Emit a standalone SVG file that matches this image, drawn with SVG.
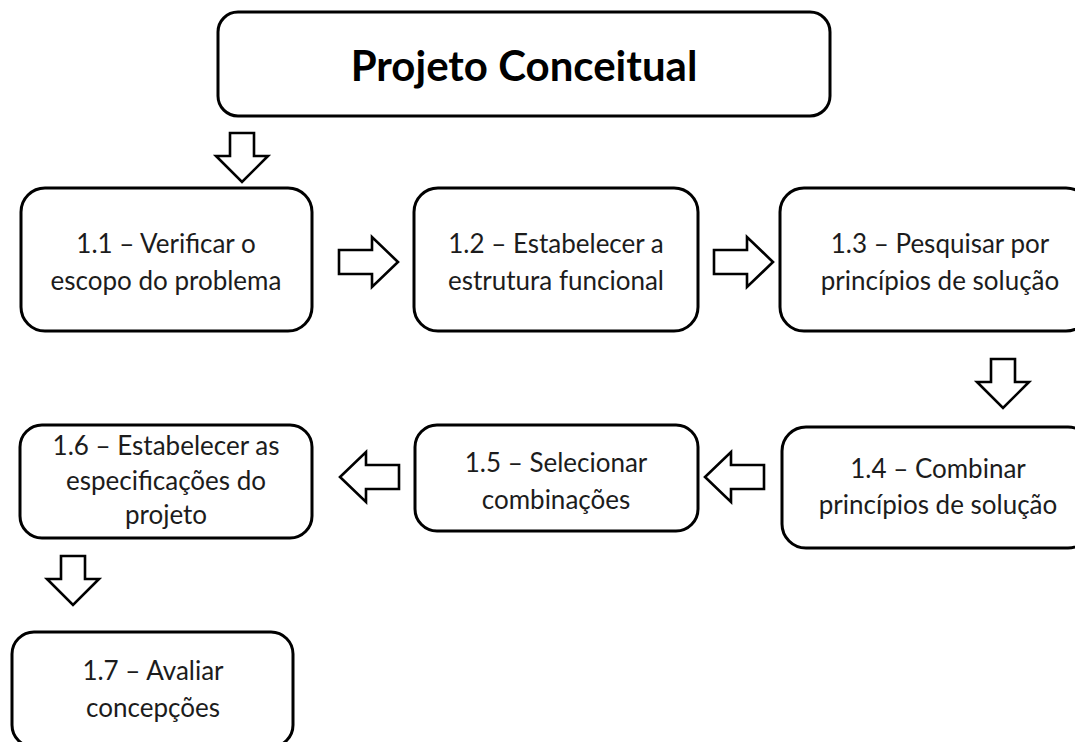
<svg xmlns="http://www.w3.org/2000/svg" xmlns:xlink="http://www.w3.org/1999/xlink" width="1075" height="742" viewBox="0 0 1075 742">
<style>
.box{fill:#fff;stroke:#000;stroke-width:3}
.t{font-family:Lato,"Open Sans","Liberation Sans",sans-serif;font-size:26px;fill:#1c1c1c;text-anchor:middle}
.title{font-family:Lato,"Open Sans","Liberation Sans",sans-serif;font-size:42px;font-weight:bold;fill:#000;text-anchor:middle}
.arr{fill:#fff;stroke:#000;stroke-width:2.6;stroke-linejoin:miter}
</style>
<defs>
<polygon id="ha" points="0,-12 33,-12 33,-25 59,0 33,25 33,12 0,12"/>
<polygon id="va" points="0,-12 23,-12 23,-26 49,0 23,26 23,12 0,12"/>
</defs>
<rect width="1075" height="742" fill="#fff"/>
<g id="connectors">
<use xlink:href="#va" class="arr" transform="translate(242,133) rotate(90)"/>
<use xlink:href="#ha" class="arr" transform="translate(339,262)"/>
<use xlink:href="#ha" class="arr" transform="translate(714,262)"/>
<use xlink:href="#va" class="arr" transform="translate(1003,359) rotate(90)"/>
<use xlink:href="#ha" class="arr" transform="translate(764,477) rotate(180)"/>
<use xlink:href="#ha" class="arr" transform="translate(399,477) rotate(180)"/>
<use xlink:href="#va" class="arr" transform="translate(73,556) rotate(90)"/>
</g>
<g id="title">
<rect class="box" x="218" y="12" width="612" height="104" rx="20"/>
<text class="title" x="524" y="81">Projeto Conceitual</text>
</g>
<g id="n11">
<rect class="box" x="21" y="188" width="291" height="143" rx="24"/>
<text class="t" x="166" y="253">1.1 – Verificar o</text>
<text class="t" x="166" y="290">escopo do problema</text>
</g>
<g id="n12">
<rect class="box" x="414" y="188" width="284" height="143" rx="24"/>
<text class="t" x="556" y="253">1.2 – Estabelecer a</text>
<text class="t" x="556" y="290">estrutura funcional</text>
</g>
<g id="n13">
<rect class="box" x="780" y="188" width="310" height="143" rx="24"/>
<text class="t" x="940" y="253">1.3 – Pesquisar por</text>
<text class="t" x="940" y="290">princípios de solução</text>
</g>
<g id="n14">
<rect class="box" x="782" y="427" width="310" height="121" rx="24"/>
<text class="t" x="938" y="478">1.4 – Combinar</text>
<text class="t" x="938" y="514">princípios de solução</text>
</g>
<g id="n15">
<rect class="box" x="415" y="425" width="283" height="106" rx="22"/>
<text class="t" x="556" y="472">1.5 – Selecionar</text>
<text class="t" x="556" y="509">combinações</text>
</g>
<g id="n16">
<rect class="box" x="20" y="425" width="292" height="113" rx="22"/>
<text class="t" x="166" y="455">1.6 – Estabelecer as</text>
<text class="t" x="166" y="490">especificações do</text>
<text class="t" x="166" y="524">projeto</text>
</g>
<g id="n17">
<rect class="box" x="12" y="632" width="281" height="115" rx="22"/>
<text class="t" x="153" y="680">1.7 – Avaliar</text>
<text class="t" x="153" y="717">concepções</text>
</g>
</svg>
